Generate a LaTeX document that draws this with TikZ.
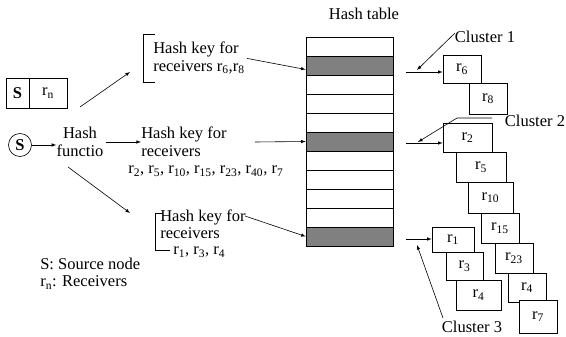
\documentclass[tikz,border=0pt]{standalone}
\usepackage{fontspec}
\setmainfont{Liberation Serif}
\usetikzlibrary{%
  arrows,%
  calc%
}
\tikzset{>=latex}
\tikzset{>=latex, cell/.style = {draw, minimum width=87pt, minimum height=19pt, inner sep=0pt},%
	rbox/.style = {draw, fill=white, inner sep=0pt},%
	txt/.style = {inner sep=0pt, align=left}}

\begin{document}
\begin{tikzpicture}[x=1pt,y=-1pt,line width=0.6pt,font=\fontsize{16.5}{17.5}\selectfont]
    \useasboundingbox (0,0) rectangle (566,337);
    % hash table
    \node[txt] (title) at (364,14) {Hash table};
    \foreach \i/\c in {1/white,2/gray,3/white,4/white,5/white,6/gray,7/white,8/white,9/white,10/white,11/gray}
      \node[cell,fill=\c] (t\i) at (349.5,{27.5+19*\i}) {};
    % source
    \node[rbox,minimum width=23pt,minimum height=30pt] (sb) at (17.5,93) {\textbf{S}};
    \node[rbox,minimum width=38pt,minimum height=30pt] (rb) at (48,93) {r\textsubscript{n}};
    \node[draw,circle,minimum size=23pt,inner sep=0pt] (src) at (20,145) {\textbf{S}};
    \node[txt,align=center] (hf) at (80,142) {Hash\\functio};
    \draw[->] (src) -- (hf.west |- src);
    % keys
    \node[txt,anchor=west] (kmid) at (141,142) {Hash key for\\receivers};
    \node[txt,anchor=west] (klist) at (128,171) {r\textsubscript{2}, r\textsubscript{5}, r\textsubscript{10}, r\textsubscript{15}, r\textsubscript{23}, r\textsubscript{40}, r\textsubscript{7}};
    \draw[->,shorten <=2pt] (hf.east) -- (kmid.west);
    \node[txt,anchor=west] (ktop) at (153,58) {Hash key for\\receivers r\textsubscript{6},r\textsubscript{8}};
    \draw (155,34) -- (143,34) -- (143,82) -- (155,82);
    \node[txt,anchor=west,font=\fontsize{16.5}{16.5}\selectfont] (klow) at (160,234) {Hash key for\\receivers\\\hspace*{13pt}r\textsubscript{1}, r\textsubscript{3}, r\textsubscript{4}};
    \draw (162,213) -- (155,213) -- (155,250) -- (170,250);
    \coordinate (a1) at (80,107);
    \coordinate (a2) at (130,72);
    \coordinate (b1) at (68,167);
    \coordinate (b2) at (130,213);
    \draw[->] (a1) -- (a2);
    \draw[->] (b1) -- (b2);
    \coordinate (m1) at (255,142);
    \coordinate (l1) at (245,216);
    \draw[->,shorten <=2pt] (ktop.east) -- ([yshift=-4pt]t2.west);
    \draw[->] (m1) -- (t6.west);
    \draw[->] (l1) -- (t11.west);
    \node[txt,anchor=west] (legend) at (40,273.5) {S: Source node\\r\textsubscript{n}: Receivers};
    % clusters
    \foreach \nm/\s/\x/\y/\w/\h in {k6/6/462/69/38/28, k8/8/488/98.5/38/31,
      k2/2/467.5/137.5/49/29, k5/5/481/167/50/30, k10/10/490.5/197.5/45/31,
      k15/15/500/228/38/30, k23/23/514/258/38/30, k4/4/527/287.5/38/29,
      k7/7/538/316.5/38/33, q1/1/453/239.5/42/25, q3/3/464.5/266/37/28,
      q4/4/478.5/295/45/30}
      \node[rbox,minimum width=\w pt,minimum height=\h pt] (\nm) at (\x,\y) {r\textsubscript{\s}};
    \coordinate (c1) at (406,72);
    \coordinate (c2) at (406,143);
    \coordinate (c3) at (406,239);
    \draw[->] (c1) -- (c1 -| k6.west);
    \draw[->] (c2) -- (c2 -| k2.west);
    \draw[->] (c3) -- (c3 -| q1.west);
    \node[txt] (cl1) at (485,37) {Cluster 1};
    \node[txt] (cl2) at (535,121) {Cluster 2};
    \node[txt] (cl3) at (472,327) {Cluster 3};
    \coordinate (p1) at (455,33);
    \coordinate (p2) at (492,118);
    \coordinate (p3) at (443,318);
    \draw[->] (p1) -- (417,70);
    \draw[->] (p2) -- (457,118) -- (418,142);
    \draw[->] (p3) -- (417,245);
\end{tikzpicture}
\end{document}
